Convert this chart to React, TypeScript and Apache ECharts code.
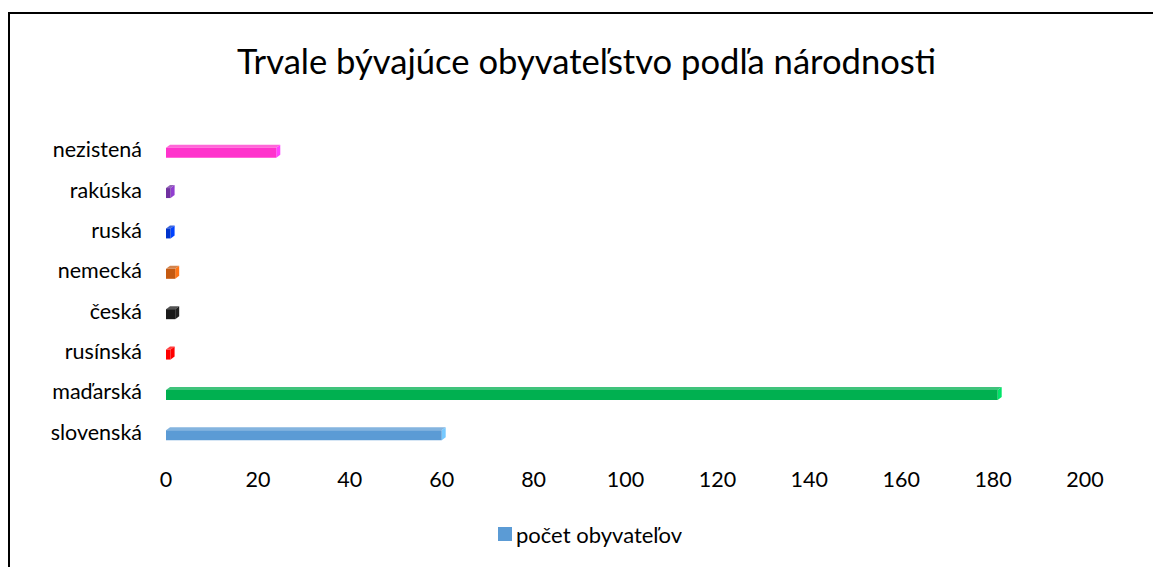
import React, { useEffect, useRef } from "react";
import * as echarts from "echarts";

const categories = ["slovenská", "maďarská", "rusínská", "česká", "nemecká", "ruská", "rakúska", "nezistená"];
const values = [60, 181, 1, 2, 2, 1, 1, 24];
const barColors = ["#5B9BD5", "#00B050", "#FF0000", "#1A1A1A", "#C55A11", "#0033CC", "#7030A0", "#FF33CC"];
const xTicks = [0, 20, 40, 60, 80, 100, 120, 140, 160, 180, 200];
const title = "Trvale bývajúce obyvateľstvo podľa národnosti";
const seriesName = "počet obyvateľov";

const FONT = "Lato, 'Open Sans', sans-serif";

export default function App() {
  const ref = useRef<HTMLDivElement>(null);
  useEffect(() => {
    if (!ref.current) return;
    const chart = echarts.init(ref.current, null, { renderer: "svg" });
    const data = values.map((v, i) => [v, i]);
    chart.setOption({
      animation: false,
      backgroundColor: "#fff",
      title: {
        text: title,
        left: 232,
        top: 38,
        textStyle: { fontFamily: FONT, fontSize: 34.6, fontWeight: "normal", color: "#000" },
      },
      legend: {
        bottom: 17,
        left: 493,
        itemWidth: 14,
        itemHeight: 14,
        itemGap: 5,
        icon: "rect",
        data: [{ name: seriesName, itemStyle: { color: "#5B9BD5" } }],
        textStyle: { fontFamily: FONT, fontSize: 22, color: "#000", padding: [0, 0, 0, -1] },
      },
      grid: { left: 166, right: 68, top: 129, bottom: 115 },
      xAxis: {
        type: "value",
        min: xTicks[0],
        max: xTicks[xTicks.length - 1],
        interval: 20,
        axisLine: { show: false },
        axisTick: { show: false },
        splitLine: { show: false },
        axisLabel: { fontFamily: FONT, fontSize: 21.5, color: "#000", margin: 16 },
      },
      yAxis: {
        type: "category",
        data: categories,
        axisLine: { show: false },
        axisTick: { show: false },
        axisLabel: { fontFamily: FONT, fontSize: 21.5, color: "#000", margin: 24 },
      },
      graphic: [
        {
          type: "rect",
          shape: { x: 9, y: 13, width: 1300, height: 700 },
          style: { fill: "none", stroke: "#000", lineWidth: 2 },
          silent: true,
        },
      ],
      series: [
        {
          name: seriesName,
          type: "custom",
          itemStyle: { color: "#5B9BD5" },
          data,
          encode: { x: 0, y: 1 },
          renderItem: (params: any, api: any) => {
            const v = api.value(0);
            const idx = api.value(1);
            const p0 = api.coord([0, idx]);
            const p1 = api.coord([v, idx]);
            const h = 10;
            const dx = 4;
            const dy = 3;
            const x0 = p0[0];
            const x1 = Math.max(p1[0], x0 + 2);
            const y0 = p0[1] - 1.5;
            const color = barColors[params.dataIndex];
            const top = echarts.color.lift(color, 0.25);
            const side = echarts.color.lift(color, -0.3);
            return {
              type: "group",
              children: [
                {
                  type: "polygon",
                  shape: { points: [[x0, y0], [x0 + dx, y0 - dy], [x1 + dx, y0 - dy], [x1, y0]] },
                  style: { fill: top },
                },
                {
                  type: "polygon",
                  shape: { points: [[x1, y0], [x1 + dx, y0 - dy], [x1 + dx, y0 + h - dy], [x1, y0 + h]] },
                  style: { fill: side },
                },
                {
                  type: "rect",
                  shape: { x: x0, y: y0, width: x1 - x0, height: h },
                  style: { fill: color },
                },
              ],
            };
          },
        },
      ],
    });
    return () => chart.dispose();
  }, []);
  return (
    <div
      ref={ref}
      style={{ position: "fixed", left: 0, top: 0, width: 1153, height: 567 }}
    />
  );
}
